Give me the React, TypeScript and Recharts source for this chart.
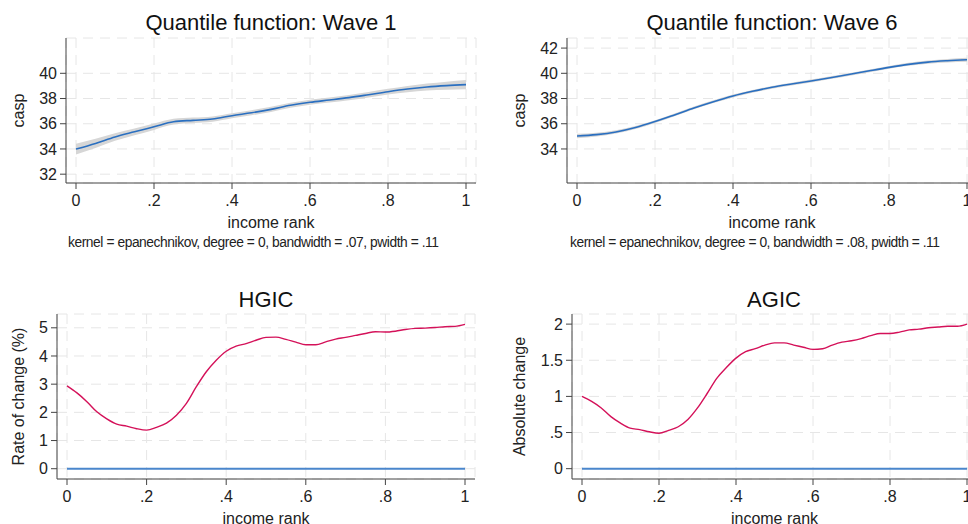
import React from "react"
import { Area, CartesianGrid, ComposedChart, Line, ReferenceLine, XAxis, YAxis } from "recharts"

// income rank grid used by the two quantile functions
const rankQ = [0, 0.05, 0.1, 0.15, 0.2, 0.25, 0.3, 0.35, 0.4, 0.45, 0.5, 0.55, 0.6, 0.65, 0.7, 0.75, 0.8, 0.85, 0.9, 0.95, 1]
const wave1 = [33.99, 34.44, 34.95, 35.36, 35.76, 36.16, 36.27, 36.37, 36.64, 36.87, 37.14, 37.46, 37.7, 37.88, 38.07, 38.3, 38.54, 38.75, 38.91, 39.02, 39.1]
const wave1Band = [0.42, 0.36, 0.3, 0.27, 0.25, 0.23, 0.22, 0.21, 0.2, 0.2, 0.2, 0.2, 0.2, 0.2, 0.21, 0.22, 0.23, 0.25, 0.28, 0.32, 0.36]
const wave6 = [35.03, 35.14, 35.35, 35.7, 36.17, 36.7, 37.25, 37.75, 38.2, 38.57, 38.89, 39.15, 39.39, 39.65, 39.92, 40.2, 40.47, 40.71, 40.89, 41.0, 41.08]
const wave6Band = [0.18, 0.15, 0.13, 0.12, 0.11, 0.11, 0.11, 0.11, 0.11, 0.11, 0.11, 0.11, 0.11, 0.11, 0.11, 0.11, 0.11, 0.12, 0.13, 0.14, 0.16]

// growth incidence curves
const rankGic = [
  0, 0.025, 0.05, 0.075, 0.1, 0.125, 0.15, 0.175, 0.2, 0.225, 0.25, 0.275, 0.3, 0.325, 0.35, 0.375, 0.4, 0.425, 0.45, 0.475, 0.5,
  0.525, 0.55, 0.575, 0.6, 0.625, 0.65, 0.675, 0.7, 0.725, 0.75, 0.775, 0.8, 0.825, 0.85, 0.875, 0.9, 0.925, 0.95, 0.975, 1,
]
const hgic = [
  2.94, 2.69, 2.38, 2.02, 1.77, 1.58, 1.51, 1.42, 1.37, 1.47, 1.62, 1.9, 2.32, 2.91, 3.44, 3.85, 4.17, 4.35, 4.44, 4.56, 4.66,
  4.67, 4.59, 4.49, 4.4, 4.4, 4.5, 4.6, 4.66, 4.73, 4.8, 4.86, 4.85, 4.88, 4.94, 4.98, 4.99, 5.01, 5.04, 5.05, 5.12,
]
const agic = [
  1.0, 0.93, 0.84, 0.72, 0.63, 0.56, 0.54, 0.51, 0.49, 0.53, 0.58, 0.68, 0.84, 1.04, 1.25, 1.4, 1.53, 1.62, 1.66, 1.71, 1.74,
  1.74, 1.71, 1.68, 1.65, 1.66, 1.71, 1.75, 1.77, 1.8, 1.84, 1.87, 1.87, 1.89, 1.92, 1.93, 1.95, 1.96, 1.97, 1.97, 2.0,
]

const xTicks = [0, 0.2, 0.4, 0.6, 0.8, 1]
const wave1Ticks = [32, 34, 36, 38, 40]
const wave6Ticks = [34, 36, 38, 40, 42]
const hgicTicks = [0, 1, 2, 3, 4, 5]
const agicTicks = [0, 0.5, 1, 1.5, 2]

const notes = [
  "kernel = epanechnikov, degree = 0, bandwidth = .07, pwidth = .11",
  "kernel = epanechnikov, degree = 0, bandwidth = .08, pwidth = .11",
]

const blue = "#2a6fc0"
const red = "#d41159"
const axisColor = "#444"
const font = "'Liberation Sans', Arial, sans-serif"

const fmt = (v: number) => {
  if (v === 0 || Number.isInteger(v)) return String(v)
  return String(v).replace(/^0\./, ".")
}

const quantData = (means: number[], band: number[]) =>
  rankQ.map((r, i) => ({ rank: r, y: means[i], band: [means[i] - band[i], means[i] + band[i]] }))

const gicData = (vals: number[]) => rankGic.map((r, i) => ({ rank: r, y: vals[i] }))

type PanelProps = {
  left: number
  top: number
  width: number
  height: number
  axisWidth: number
  plotTop: number
  plotBottom: number
  rightMargin: number
  domain: [number, number]
  ticks: number[]
  yTitle: string
  yTitleX: number
  children: React.ReactNode
  data: object[]
}

function Panel(p: PanelProps) {
  const xAxisHeight = 45
  return (
    <div style={{ position: "absolute", left: p.left, top: p.top }}>
      <ComposedChart
        width={p.width}
        height={p.height}
        data={p.data}
        margin={{ top: p.plotTop, left: 0, right: p.rightMargin, bottom: p.height - p.plotBottom - xAxisHeight }}
      >
        <CartesianGrid stroke="#e6e6e6" strokeDasharray="10 7" />
        <XAxis
          dataKey="rank"
          type="number"
          domain={[0, 1]}
          ticks={xTicks}
          tickFormatter={fmt}
          padding={{ left: 10, right: 10 }}
          height={xAxisHeight}
          stroke={axisColor}
          tickSize={6}
          tickMargin={6}
          tick={{ fontSize: 16, fill: "#222" }}
          label={{ value: "income rank", position: "insideBottom", offset: 0, fontSize: 16, fill: "#222" }}
        />
        <YAxis
          type="number"
          domain={p.domain}
          ticks={p.ticks}
          allowDataOverflow
          tickFormatter={fmt}
          width={p.axisWidth}
          stroke={axisColor}
          tickSize={6}
          tickMargin={3}
          tick={{ fontSize: 16, fill: "#222" }}
          label={{
            value: p.yTitle,
            angle: -90,
            position: "insideLeft",
            offset: p.yTitleX,
            fontSize: 16,
            fill: "#222",
            style: { textAnchor: "middle" },
          }}
        />
        {p.children}
      </ComposedChart>
    </div>
  )
}

export default function App() {
  return (
    <div
      style={{
        position: "absolute",
        left: 0,
        top: 0,
        width: 968,
        height: 524,
        overflow: "hidden",
        background: "#fff",
        fontFamily: font,
      }}
    >
      <Panel left={0} top={0} width={484} height={270} axisWidth={66} plotTop={38} plotBottom={183} rightMargin={8}
        domain={[31.3, 42.8]} ticks={wave1Ticks} yTitle="casp" yTitleX={18} data={quantData(wave1, wave1Band)}>
        <Area dataKey="band" type="monotone" fill="#d6d6d6" fillOpacity={1} stroke="none" isAnimationActive={false} />
        <Line dataKey="y" type="monotone" stroke={blue} strokeWidth={1.6} dot={false} isAnimationActive={false} />
      </Panel>
      <Panel left={484} top={0} width={493} height={270} axisWidth={83} plotTop={38} plotBottom={183} rightMargin={0}
        domain={[31.3, 42.8]} ticks={wave6Ticks} yTitle="casp" yTitleX={35.5} data={quantData(wave6, wave6Band)}>
        <Area dataKey="band" type="monotone" fill="#d6d6d6" fillOpacity={1} stroke="none" isAnimationActive={false} />
        <Line dataKey="y" type="monotone" stroke={blue} strokeWidth={1.6} dot={false} isAnimationActive={false} />
      </Panel>
      <Panel left={0} top={270} width={484} height={254} axisWidth={57} plotTop={44} plotBottom={209} rightMargin={9}
        domain={[-0.365, 5.49]} ticks={hgicTicks} yTitle="Rate of change (%)" yTitleX={18} data={gicData(hgic)}>
        <ReferenceLine segment={[{ x: 0, y: 0 }, { x: 1, y: 0 }]} stroke="#4a86cc" strokeWidth={2} />
        <Line dataKey="y" type="monotone" stroke={red} strokeWidth={1.4} dot={false} isAnimationActive={false} />
      </Panel>
      <Panel left={484} top={270} width={493} height={254} axisWidth={88} plotTop={44} plotBottom={209} rightMargin={0}
        domain={[-0.143, 2.14]} ticks={agicTicks} yTitle="Absolute change" yTitleX={35.5} data={gicData(agic)}>
        <ReferenceLine segment={[{ x: 0, y: 0 }, { x: 1, y: 0 }]} stroke="#4a86cc" strokeWidth={2} />
        <Line dataKey="y" type="monotone" stroke={red} strokeWidth={1.4} dot={false} isAnimationActive={false} />
      </Panel>
      <svg width={968} height={524} style={{ position: "absolute", left: 0, top: 0, pointerEvents: "none" }}>
        <g fontFamily={font} fill="#111" textAnchor="middle">
          <text x={271} y={30} fontSize={22}>Quantile function: Wave 1</text>
          <text x={772} y={30} fontSize={22}>Quantile function: Wave 6</text>
          <text x={266} y={307} fontSize={22}>HGIC</text>
          <text x={774} y={307} fontSize={22}>AGIC</text>
        </g>
        <g fontFamily={font} fill="#222" fontSize={13.8}>
          <text x={68} y={247} textLength={371}>{notes[0]}</text>
          <text x={570} y={247} textLength={370}>{notes[1]}</text>
        </g>
      </svg>
    </div>
  )
}
